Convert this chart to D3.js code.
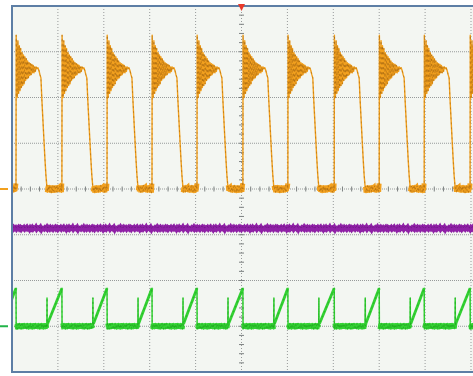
<!DOCTYPE html>
<html>
<head>
<meta charset="utf-8">
<script src="https://cdn.jsdelivr.net/npm/d3@7"></script>
<style>
  html, body { margin: 0; padding: 0; background: #ffffff; }
  svg { display: block; }
</style>
</head>
<body>
<svg id="scope" width="473" height="376"></svg>
<script>
// Screen divisions (time: 10 div across, voltage: 8 div tall)
const timeDivs = [0, 1, 2, 3, 4, 5, 6, 7, 8, 9, 10];
const voltDivs = [-4, -3, -2, -1, 0, 1, 2, 3, 4];

// Channel reference levels (div)
const orangeRef = 0.0;
const purpleRef = -0.86;
const greenRef = -3.0;

// Rising edges of the switching waveform (div of time)
const risingEdges = [-0.905, 0.087, 1.087, 2.07, 3.05, 4.03, 5.03, 6.01, 7.02, 8.0, 8.98, 9.98, 10.97];

// One switching pulse on the orange channel: [time after edge, level] in div
const orangePulse = [
  [0.000, 0.00], [0.004, 3.36], [0.026, 2.00], [0.041, 3.24], [0.057, 2.09],
  [0.072, 3.13], [0.087, 2.15], [0.102, 3.07], [0.117, 2.22], [0.133, 2.98],
  [0.148, 2.26], [0.163, 2.93], [0.178, 2.30], [0.193, 2.89], [0.209, 2.37],
  [0.224, 2.85], [0.239, 2.41], [0.254, 2.80], [0.270, 2.43], [0.285, 2.76],
  [0.300, 2.48], [0.315, 2.74], [0.330, 2.50], [0.346, 2.72], [0.361, 2.54],
  [0.376, 2.70], [0.391, 2.54], [0.407, 2.67], [0.422, 2.57], [0.437, 2.67],
  [0.457, 2.63], [0.478, 2.65], [0.500, 2.59], [0.522, 2.50], [0.543, 2.43],
  [0.565, 1.93], [0.587, 1.50], [0.609, 1.07], [0.630, 0.67], [0.652, 0.30],
  [0.674, 0.04]
];
const orangeLowStart = 0.674;

// Ramp on the green channel: level at the edge, spike height, ramp start level
const greenPeak = 0.83;
const greenSpike = 0.62;
const greenRampStart = 0.05;

// Measured noise on the flat parts of each trace (div)
const orangeNoise = [0.03, -0.05, 0.07, -0.02, 0.05, -0.07, 0.02, 0.06, -0.04, 0.08,
  -0.06, 0.01, 0.05, -0.08, 0.04, -0.03, 0.07, -0.05, 0.02, 0.06, -0.07, 0.03,
  -0.01, 0.05, -0.06, 0.08, -0.04, 0.02];
const greenNoise = [0.02, -0.05, 0.06, -0.03, 0.04, -0.06, 0.01, 0.05, -0.04, 0.06,
  -0.02, 0.03, -0.06, 0.05, -0.01, 0.04, -0.05, 0.02, 0.06, -0.04, 0.03, -0.03];
const purpleNoise = [0.01, -0.015, 0.02, -0.005, 0.015, -0.02, 0.005, 0.025, -0.01, 0.015,
  -0.02, 0.01, -0.005, 0.02, -0.015, 0.01, 0.03, -0.01, 0.005, -0.025, 0.015, -0.01,
  0.02, -0.015, 0.01, -0.005, 0.025, -0.02, 0.005, 0.015, -0.01, 0.02, -0.025, 0.01,
  0.005, -0.015, 0.015, -0.005, 0.025, -0.015];

const colors = {
  orange: "#f2a01e", orangeDark: "#8a520c",
  green: "#33d233", greenDark: "#168c16",
  purple: "#8f21a6", purpleDark: "#4f0a60",
  grid: "#979a9a", frame: "#5d7ea5", plotBg: "#f3f6f2", trigger: "#e8392a"
};

const svg = d3.select("#scope");
const x = d3.scaleLinear().domain([0, 10]).range([12, 471]);
const y = d3.scaleLinear().domain([-4, 4]).range([372, 6]);

// plot background
svg.append("rect")
  .attr("x", x(0)).attr("y", y(4))
  .attr("width", x(10) - x(0) + 4).attr("height", y(-4) - y(4))
  .attr("fill", colors.plotBg);

svg.append("clipPath").attr("id", "plotClip")
  .append("rect")
  .attr("x", x(0) + 1).attr("y", y(4) + 1)
  .attr("width", 473 - x(0)).attr("height", y(-4) - y(4) - 2);

// dotted graticule
const grid = svg.append("g");
grid.selectAll("line.v").data(timeDivs.slice(1)).join("line")
  .attr("x1", d => x(d)).attr("x2", d => x(d))
  .attr("y1", y(4)).attr("y2", y(-4))
  .attr("stroke", colors.grid).attr("stroke-width", 1)
  .attr("stroke-dasharray", "1,2");
grid.selectAll("line.h").data(voltDivs.slice(1, -1)).join("line")
  .attr("x1", x(0)).attr("x2", 473)
  .attr("y1", d => y(d)).attr("y2", d => y(d))
  .attr("stroke", colors.grid).attr("stroke-width", 1)
  .attr("stroke-dasharray", "1,1");

// minor ticks along the centre axes (5 per division)
const minorT = d3.range(0, 50).map(i => i / 5);
const minorV = d3.range(-20, 21).map(i => i / 5);
grid.selectAll("line.mt").data(minorT).join("line")
  .attr("x1", d => x(d)).attr("x2", d => x(d))
  .attr("y1", y(0) - 2.5).attr("y2", y(0) + 2.5)
  .attr("stroke", "#7d8282").attr("stroke-width", 1);
grid.selectAll("line.mv").data(minorV).join("line")
  .attr("x1", x(5) - 2.5).attr("x2", x(5) + 2.5)
  .attr("y1", d => y(d)).attr("y2", d => y(d))
  .attr("stroke", "#7d8282").attr("stroke-width", 1);

const line = d3.line().x(d => x(d[0])).y(d => y(d[1]));
const traces = svg.append("g").attr("clip-path", "url(#plotClip)");

// --- purple channel: flat noisy level
const purplePts = [];
const pStep = 0.02;
for (let i = 0; i * pStep <= 10.1; i++) {
  purplePts.push([i * pStep, purpleRef + purpleNoise[i % purpleNoise.length]]);
}
traces.append("path").attr("d", line(purplePts))
  .attr("fill", "none").attr("stroke", colors.purple).attr("stroke-width", 4.5);
traces.append("path").attr("d", line(purplePts.map(d => [d[0], d[1] + 0.025])))
  .attr("fill", "none").attr("stroke", colors.purpleDark).attr("stroke-width", 0.7)
  .attr("stroke-opacity", 0.5).attr("stroke-dasharray", "3,2");

// --- orange channel: ringing pulse, slow fall, noisy low level
const orangePts = [];
const lowPts = [];
for (let k = 0; k < risingEdges.length - 1; k++) {
  const t0 = risingEdges[k], t1 = risingEdges[k + 1];
  orangePulse.forEach(p => orangePts.push([t0 + p[0], orangeRef + p[1]]));
  const seg = [];
  let j = 0;
  for (let t = t0 + orangeLowStart + 0.008; t < t1 - 0.004; t += 0.011, j++) {
    seg.push([t, orangeRef + orangeNoise[(j + k * 5) % orangeNoise.length]]);
  }
  seg.push([t1 - 0.002, orangeRef + 0.12]);
  seg.forEach(p => orangePts.push(p));
  lowPts.push(seg);
}
traces.append("path").attr("d", line(orangePts))
  .attr("fill", "none").attr("stroke", colors.orange).attr("stroke-width", 1.4)
  .attr("stroke-linejoin", "round");
lowPts.forEach(seg => {
  traces.append("path").attr("d", line(seg))
    .attr("fill", "none").attr("stroke", colors.orange).attr("stroke-width", 5);
});
traces.append("path").attr("d", line(orangePts))
  .attr("fill", "none").attr("stroke", colors.orangeDark).attr("stroke-width", 0.7)
  .attr("stroke-opacity", 0.6).attr("stroke-dasharray", "2,3");

// --- green channel: flat level, spike, linear ramp up to each edge
const greenPts = [];
const greenFlat = [];
const greenRamps = [];
for (let k = 0; k < risingEdges.length - 1; k++) {
  const t0 = risingEdges[k], t1 = risingEdges[k + 1];
  greenPts.push([t0, greenRef + greenPeak]);
  greenPts.push([t0 + 0.004, greenRef - 0.06]);
  const seg = [];
  let j = 0;
  for (let t = t0 + 0.012; t < t0 + orangeLowStart; t += 0.011, j++) {
    seg.push([t, greenRef + greenNoise[(j + k * 3) % greenNoise.length]]);
  }
  seg.forEach(p => greenPts.push(p));
  greenFlat.push(seg);
  greenPts.push([t0 + orangeLowStart + 0.002, greenRef + greenSpike]);
  greenPts.push([t0 + orangeLowStart + 0.006, greenRef]);
  greenPts.push([t0 + orangeLowStart + 0.012, greenRef + greenRampStart]);
  greenPts.push([t1, greenRef + greenPeak]);
  greenRamps.push([[t0 + orangeLowStart + 0.012, greenRef + greenRampStart], [t1, greenRef + greenPeak]]);
}
traces.append("path").attr("d", line(greenPts))
  .attr("fill", "none").attr("stroke", colors.green).attr("stroke-width", 1.5)
  .attr("stroke-linejoin", "round");
greenFlat.forEach(seg => {
  traces.append("path").attr("d", line(seg))
    .attr("fill", "none").attr("stroke", colors.green).attr("stroke-width", 4.5);
});
greenRamps.forEach(seg => {
  traces.append("path").attr("d", line(seg))
    .attr("fill", "none").attr("stroke", colors.green).attr("stroke-width", 2.8);
});
traces.append("path").attr("d", line(greenPts))
  .attr("fill", "none").attr("stroke", colors.greenDark).attr("stroke-width", 0.7)
  .attr("stroke-opacity", 0.55).attr("stroke-dasharray", "2,3");

// frame
svg.append("path")
  .attr("d", `M${473},${y(4)} H${x(0)} V${y(-4)} H${473}`)
  .attr("fill", "none").attr("stroke", colors.frame).attr("stroke-width", 2);

// channel reference markers on the left
svg.append("line").attr("x1", 0).attr("x2", 8)
  .attr("y1", y(orangeRef)).attr("y2", y(orangeRef))
  .attr("stroke", colors.orange).attr("stroke-width", 2);
svg.append("line").attr("x1", 0).attr("x2", 8)
  .attr("y1", y(greenRef)).attr("y2", y(greenRef))
  .attr("stroke", "#22b44a").attr("stroke-width", 2);

// trigger position marker
const tx = x(5);
svg.append("path")
  .attr("d", `M${tx - 3.5},${y(4) - 2} L${tx + 3.5},${y(4) - 2} L${tx},${y(4) + 5} Z`)
  .attr("fill", colors.trigger);
</script>
</body>
</html>
